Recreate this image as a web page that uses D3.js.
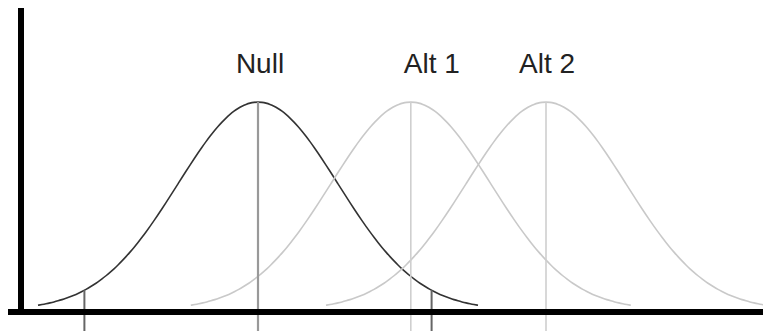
<!DOCTYPE html>
<html>
<head>
<meta charset="utf-8">
<script src="https://cdn.jsdelivr.net/npm/d3@7"></script>
<style>
  html, body { margin: 0; padding: 0; background: #fff; }
  svg { display: block; }
</style>
</head>
<body>
<div id="chart"></div>
<script>
/* === Null vs alternative distributions (D3.js v7) === */

// distributions, in standard-deviation units of the null
var NAMES = ['Null', 'Alt 1', 'Alt 2'];
var MEANS = [0, 1.91, 3.6];
var SDS = [1, 1, 1];
// two-sided critical values of the null
var CRITICAL = [-2.17, 2.17];
var TAIL = 2.75;   // how far each curve is drawn from its mean

var width = 763, height = 331;

var svg = d3.select('#chart')
    .append('svg')
    .attr('width', width)
    .attr('height', height);

var x = d3.scaleLinear().domain([-3, 6]).range([18, 738]);

function pdf(v, m, s) {
    var z = (v - m) / s;
    return Math.exp(-0.5 * z * z) / (s * Math.sqrt(2 * Math.PI));
}

var peak = pdf(0, 0, 1);
var y = d3.scaleLinear().domain([0, peak]).range([310, 102]);

var line = d3.line()
    .x(function(d) { return x(d[0]); })
    .y(function(d) { return y(d[1]); })
    .curve(d3.curveBasis);

var curveColor = ['#333', '#c9c9c9', '#c9c9c9'];
var centerColor = ['#999', '#cfcfcf', '#cfcfcf'];
var labelDx = [2, 21, 1];

// curves
NAMES.forEach(function(name, i) {
    var pts = d3.range(MEANS[i] - TAIL * SDS[i], MEANS[i] + TAIL * SDS[i] + 0.001, 0.05)
        .map(function(v) { return [v, pdf(v, MEANS[i], SDS[i])]; });
    svg.append('path')
        .datum(pts)
        .attr('d', line)
        .attr('fill', 'none')
        .attr('stroke', curveColor[i])
        .attr('stroke-width', 1.6);
});

// centre lines
svg.append('g').selectAll('line')
    .data(MEANS)
    .join('line')
    .attr('x1', function(d) { return x(d); })
    .attr('x2', function(d) { return x(d); })
    .attr('y1', function(d, i) { return y(pdf(d, d, SDS[i])); })
    .attr('y2', height)
    .attr('stroke', function(d, i) { return centerColor[i]; })
    .attr('stroke-width', function(d, i) { return i === 0 ? 2.2 : 1.6; });

// critical value ticks
svg.append('g').selectAll('line')
    .data(CRITICAL)
    .join('line')
    .attr('x1', function(d) { return x(d); })
    .attr('x2', function(d) { return x(d); })
    .attr('y1', function(d) { return y(pdf(d, MEANS[0], SDS[0])); })
    .attr('y2', height)
    .attr('stroke', '#666')
    .attr('stroke-width', 2);

// labels
svg.append('g').selectAll('text')
    .data(NAMES)
    .join('text')
    .attr('x', function(d, i) { return x(MEANS[i]) + labelDx[i]; })
    .attr('y', 73)
    .attr('text-anchor', 'middle')
    .attr('font-family', 'Liberation Sans, Arial, sans-serif')
    .attr('font-size', 28)
    .attr('fill', '#222')
    .text(function(d) { return d; });

// axes
svg.append('line')
    .attr('x1', 21).attr('x2', 21)
    .attr('y1', 8).attr('y2', 315)
    .attr('stroke', '#000')
    .attr('stroke-width', 6);

svg.append('line')
    .attr('x1', 8).attr('x2', width)
    .attr('y1', 312).attr('y2', 312)
    .attr('stroke', '#000')
    .attr('stroke-width', 6);
</script>
</body>
</html>
